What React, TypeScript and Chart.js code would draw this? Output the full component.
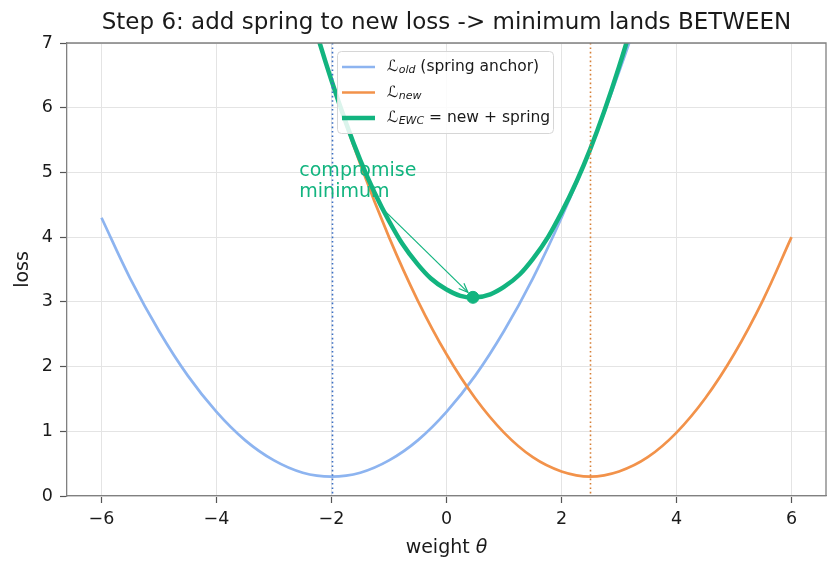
import React, { useEffect, useRef } from "react";
import { Chart, registerables } from "chart.js";

Chart.register(...registerables);

// weight values θ sampled along the curves
const thetas = [
  -6, -5.5, -5, -4.5, -4, -3.5, -3, -2.5, -2, -1.5, -1, -0.5, 0, 0.5, 1, 1.5, 2, 2.5, 3, 3.5, 4, 4.5, 5, 5.5, 6,
];

// old-task loss (acts as the spring anchor), minimum at θ = -2
const lossOld = [
  4.3, 3.36, 2.55, 1.86, 1.3, 0.86, 0.55, 0.36, 0.3, 0.36, 0.55, 0.86, 1.3, 1.86, 2.55, 3.36, 4.3, 5.36, 6.55, 7.86,
  9.3, 10.86, 12.55, 14.36, 16.3,
];

// new-task loss, minimum at θ = 2.5
const lossNew = [
  22.12, 19.63, 17.29, 15.1, 13.06, 11.17, 9.44, 7.85, 6.42, 5.13, 4.0, 3.02, 2.19, 1.51, 0.98, 0.6, 0.38, 0.3, 0.38,
  0.6, 0.98, 1.51, 2.19, 3.02, 4.0,
];

// EWC objective = new loss + spring
const lossEwc = [
  26.12, 22.69, 19.54, 16.66, 14.06, 11.73, 9.69, 7.91, 6.42, 5.19, 4.25, 3.58, 3.19, 3.07, 3.23, 3.66, 4.38, 5.36,
  6.63, 8.16, 9.98, 12.07, 14.44, 17.08, 20.0,
];

// compromise minimum of the EWC objective
const minTheta = [0.46];
const minLoss = [3.07];

// optima of the individual losses (dotted guides)
const optOld = -2;
const optNew = 2.5;

const xTicks = [-6, -4, -2, 0, 2, 4, 6];

const titleText = "Step 6: add spring to new loss -> minimum lands BETWEEN";
const noteLines = ["compromise", "minimum"];
const noteAt = { x: -2.56, y: 4.62 };
const arrowFrom = { x: -1.1, y: 4.43 };

const C_OLD = "#8db4f0";
const C_NEW = "#f2924a";
const C_EWC = "#12b47f";
const C_OLD_DOT = "#3a6ec4";
const C_NEW_DOT = "#d67f36";
const FONT = "'DejaVu Sans', sans-serif";
const TICK_SIZE = 17.5;
const LABEL_SIZE = 19;
const LEGEND_SIZE = 15.5;

const pts = (ys: number[]) => thetas.map((t, i) => ({ x: t, y: ys[i] }));

function mathLabel(ctx: CanvasRenderingContext2D, x: number, y: number, sub: string, rest: string, size: number) {
  ctx.textBaseline = "middle";
  ctx.textAlign = "left";
  ctx.font = `${size}px ${FONT}`;
  ctx.fillText("\u2112", x, y);
  let cx = x + ctx.measureText("\u2112").width + 0.5;
  ctx.font = `italic ${Math.round(size * 0.7)}px ${FONT}`;
  ctx.fillText(sub, cx, y + size * 0.22);
  cx += ctx.measureText(sub).width;
  if (rest) {
    ctx.font = `${size}px ${FONT}`;
    ctx.fillText(rest, cx, y);
  }
}

const decor = {
  id: "decor",
  afterDatasetsDraw(chart: any) {
    const { ctx, chartArea: a, scales } = chart;
    const xs = scales.x;
    const ys = scales.y;

    // dotted guides at each optimum
    ctx.save();
    ctx.lineWidth = 1.6;
    ctx.setLineDash([1.6, 2.8]);
    [
      [optOld, C_OLD_DOT],
      [optNew, C_NEW_DOT],
    ].forEach(([v, c]) => {
      const px = Math.round(xs.getPixelForValue(v as number)) + 0.5;
      ctx.strokeStyle = c as string;
      ctx.beginPath();
      ctx.moveTo(px, a.top);
      ctx.lineTo(px, a.bottom);
      ctx.stroke();
    });
    ctx.restore();

    // annotation text and arrow
    ctx.save();
    ctx.fillStyle = C_EWC;
    ctx.font = `${LABEL_SIZE}px ${FONT}`;
    ctx.textAlign = "left";
    ctx.textBaseline = "alphabetic";
    const tx = xs.getPixelForValue(noteAt.x);
    const ty = ys.getPixelForValue(noteAt.y);
    ctx.fillText(noteLines[0], tx, ty - 21.5);
    ctx.fillText(noteLines[1], tx, ty);

    const x0 = xs.getPixelForValue(arrowFrom.x);
    const y0 = ys.getPixelForValue(arrowFrom.y);
    const mx = xs.getPixelForValue(minTheta[0]);
    const my = ys.getPixelForValue(minLoss[0]);
    const ang = Math.atan2(my - y0, mx - x0);
    const x1 = mx - Math.cos(ang) * 7;
    const y1 = my - Math.sin(ang) * 7;
    ctx.strokeStyle = C_EWC;
    ctx.lineWidth = 1.2;
    ctx.beginPath();
    ctx.moveTo(x0, y0);
    ctx.lineTo(x1, y1);
    ctx.stroke();
    const hl = 10;
    const hw = 0.38;
    ctx.beginPath();
    ctx.moveTo(x1 - Math.cos(ang - hw) * hl, y1 - Math.sin(ang - hw) * hl);
    ctx.lineTo(x1, y1);
    ctx.lineTo(x1 - Math.cos(ang + hw) * hl, y1 - Math.sin(ang + hw) * hl);
    ctx.stroke();
    ctx.restore();
  },
  afterDraw(chart: any) {
    const { ctx, chartArea: a } = chart;
    ctx.save();

    // top and right frame
    ctx.strokeStyle = "#808080";
    ctx.lineWidth = 1.3;
    ctx.beginPath();
    ctx.moveTo(a.left, a.top);
    ctx.lineTo(a.right, a.top);
    ctx.lineTo(a.right, a.bottom);
    ctx.stroke();

    // title
    ctx.fillStyle = "#1a1a1a";
    ctx.font = `23px ${FONT}`;
    ctx.textAlign = "center";
    ctx.textBaseline = "middle";
    ctx.fillText(titleText, (a.left + a.right) / 2, 23);

    // axis titles
    ctx.font = `${LABEL_SIZE}px ${FONT}`;
    const xl = "weight ";
    const wx = ctx.measureText(xl).width;
    ctx.font = `italic ${LABEL_SIZE}px ${FONT}`;
    const wt = ctx.measureText("\u03b8").width;
    const sx = (a.left + a.right) / 2 - (wx + wt) / 2;
    ctx.textAlign = "left";
    ctx.font = `${LABEL_SIZE}px ${FONT}`;
    ctx.fillText(xl, sx, 548);
    ctx.font = `italic ${LABEL_SIZE}px ${FONT}`;
    ctx.fillText("\u03b8", sx + wx, 548);

    ctx.save();
    ctx.translate(23, (a.top + a.bottom) / 2);
    ctx.rotate(-Math.PI / 2);
    ctx.textAlign = "center";
    ctx.font = `${LABEL_SIZE}px ${FONT}`;
    ctx.fillText("loss", 0, 0);
    ctx.restore();

    // legend
    const bx = 337;
    const by = 51;
    const bw = 216;
    const bh = 82;
    ctx.fillStyle = "rgba(255,255,255,0.85)";
    ctx.strokeStyle = "#d6d6d6";
    ctx.lineWidth = 1;
    ctx.beginPath();
    (ctx as any).roundRect(bx + 0.5, by + 0.5, bw, bh, 4);
    ctx.fill();
    ctx.stroke();

    const rows: [string, number, string, string][] = [
      [C_OLD, 2.7, "old", " (spring anchor)"],
      [C_NEW, 2.7, "new", ""],
      [C_EWC, 4.5, "EWC", " = new + spring"],
    ];
    rows.forEach(([c, w, sub, rest], i) => {
      const ry = by + 16 + i * 25.5;
      ctx.strokeStyle = c;
      ctx.lineWidth = w;
      ctx.setLineDash([]);
      ctx.beginPath();
      ctx.moveTo(bx + 5, ry);
      ctx.lineTo(bx + 38, ry);
      ctx.stroke();
      ctx.fillStyle = "#1a1a1a";
      mathLabel(ctx, bx + 50, ry, sub, rest, LEGEND_SIZE);
    });

    ctx.restore();
  },
};

export default function App() {
  const ref = useRef<HTMLCanvasElement | null>(null);

  useEffect(() => {
    if (!ref.current) return;
    const chart = new Chart(ref.current, {
      type: "line",
      data: {
        datasets: [
          {
            label: "min",
            data: minTheta.map((t, i) => ({ x: t, y: minLoss[i] })),
            showLine: false,
            pointRadius: 6,
            pointBackgroundColor: C_EWC,
            pointBorderColor: C_EWC,
            order: 0,
          },
          {
            label: "ewc",
            data: pts(lossEwc),
            borderColor: C_EWC,
            borderWidth: 4.5,
            pointRadius: 0,
            tension: 0.4,
            order: 1,
          },
          {
            label: "new",
            data: pts(lossNew),
            borderColor: C_NEW,
            borderWidth: 2.7,
            pointRadius: 0,
            tension: 0.4,
            order: 2,
          },
          {
            label: "old",
            data: pts(lossOld),
            borderColor: C_OLD,
            borderWidth: 2.7,
            pointRadius: 0,
            tension: 0.4,
            order: 3,
          },
        ],
      },
      options: {
        animation: false,
        responsive: false,
        layout: { padding: { left: 0, top: 43, right: 14, bottom: 0 } },
        elements: { line: { capBezierPoints: false } as any },
        plugins: { legend: { display: false }, title: { display: false }, tooltip: { enabled: false } },
        scales: {
          x: {
            type: "linear",
            min: -6.6,
            max: 6.6,
            afterBuildTicks: (s: any) => {
              s.ticks = xTicks.map((v) => ({ value: v }));
            },
            afterFit: (s: any) => {
              s.height = 77;
            },
            ticks: {
              color: "#1a1a1a",
              font: { family: "DejaVu Sans", size: TICK_SIZE },
              padding: 6,
              maxRotation: 0,
              callback: (v: any) => (v < 0 ? "\u2212" + Math.abs(v) : String(v)),
            },
            grid: { color: "#e4e4e4", lineWidth: 1, tickColor: "#555", tickLength: 7, tickWidth: 1.2 },
            border: { color: "#808080", width: 1.3 },
          },
          y: {
            type: "linear",
            min: 0,
            max: 7,
            afterFit: (s: any) => {
              s.width = 67;
            },
            ticks: {
              stepSize: 1,
              color: "#1a1a1a",
              font: { family: "DejaVu Sans", size: TICK_SIZE },
              padding: 7,
            },
            grid: { color: "#e4e4e4", lineWidth: 1, tickColor: "#555", tickLength: 7, tickWidth: 1.2 },
            border: { color: "#808080", width: 1.3 },
          },
        },
      },
      plugins: [decor],
    });
    return () => chart.destroy();
  }, []);

  return (
    <div style={{ position: "fixed", left: 0, top: 0, width: 840, height: 573, background: "#fff" }}>
      <canvas ref={ref} width={840} height={573} style={{ display: "block", width: 840, height: 573 }} />
    </div>
  );
}
